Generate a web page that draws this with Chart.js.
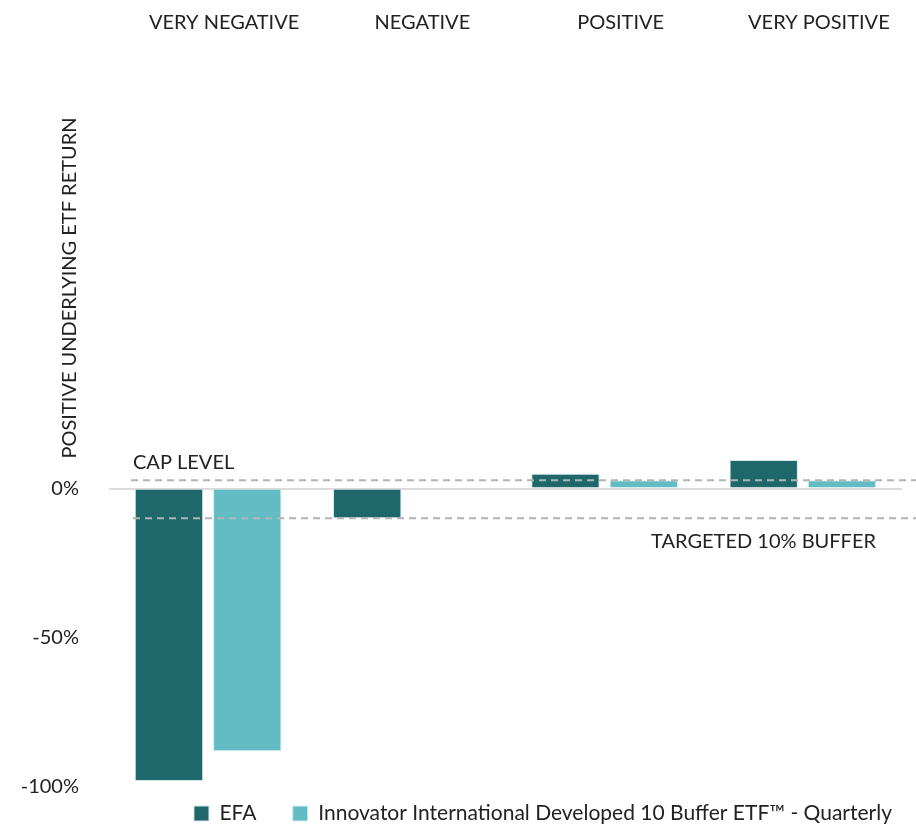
<!DOCTYPE html>
<html>
<head>
<meta charset="utf-8">
<script src="https://cdn.jsdelivr.net/npm/chart.js@4.4.1/dist/chart.umd.min.js"></script>
<style>
  html, body { margin: 0; padding: 0; background: #fff; }
  #wrap { width: 916px; height: 829px; overflow: hidden; }
  #bufferChart { display: block; }
</style>
</head>
<body>
<div id="wrap"><canvas id="bufferChart" width="916" height="835"></canvas></div>
<script>
// data
var categories = ['VERY NEGATIVE', 'NEGATIVE', 'POSITIVE', 'VERY POSITIVE'];
var efaValues = [-98.3, -10, 5, 9.6];
var innovatorValues = [-88.3, 0, 2.8, 2.8];
var yTickLabels = [-100, -50, 0];
var capLevel = 2.8;
var bufferLevel = -10;

var FONT = 'Lato, "DejaVu Sans", sans-serif';
var TEXT = '#222222';

// dashed reference lines, their labels and the rotated title
var referenceLines = {
    id: 'referenceLines',
    afterDatasetsDraw: function(chart) {
        var ctx = chart.ctx;
        var y = chart.scales.y;
        var left = chart.chartArea.left;
        var capY = y.getPixelForValue(capLevel);
        var bufY = y.getPixelForValue(bufferLevel);

        ctx.save();
        ctx.strokeStyle = '#b3b3b3';
        ctx.lineWidth = 2;
        ctx.setLineDash([7, 5]);
        ctx.beginPath();
        ctx.moveTo(left + 22, capY);
        ctx.lineTo(chart.width, capY);
        ctx.moveTo(left + 24, bufY);
        ctx.lineTo(chart.width, bufY);
        ctx.stroke();
        ctx.setLineDash([]);

        ctx.fillStyle = TEXT;
        ctx.font = '20px ' + FONT;
        ctx.textBaseline = 'middle';
        ctx.textAlign = 'left';
        ctx.fillText('CAP LEVEL', 133, capY - 18);
        ctx.textAlign = 'right';
        ctx.fillText('TARGETED 10% BUFFER', 876, bufY + 23);

        ctx.translate(70, 288);
        ctx.rotate(-Math.PI / 2);
        ctx.textAlign = 'center';
        ctx.fillText('POSITIVE UNDERLYING ETF RETURN', 0, 0);
        ctx.restore();
    }
};

function drawChart() {
    var ctx = document.getElementById('bufferChart').getContext('2d');

    var chart = new Chart(ctx, {
        type: 'bar',
        data: {
            labels: categories,
            datasets: [{
                label: 'EFA',
                data: efaValues,
                backgroundColor: '#1e686b',
                borderColor: '#d6e6e6',
                borderWidth: 1
            }, {
                label: 'Innovator International Developed 10 Buffer ETF\u2122 - Quarterly',
                data: innovatorValues,
                backgroundColor: '#63bcc3',
                borderColor: '#d6eef0',
                borderWidth: function(c) { return c.raw === 0 ? 0 : 1; }
            }]
        },
        options: {
            responsive: false,
            animation: false,
            categoryPercentage: 0.79,
            barPercentage: 0.873,
            layout: { padding: { left: 0, right: 14, top: 0, bottom: 0 } },
            scales: {
                x: {
                    position: 'top',
                    grid: { display: false, drawTicks: false },
                    border: { display: false },
                    ticks: {
                        color: TEXT,
                        font: { family: FONT, size: 20 },
                        padding: 7,
                        labelOffset: 16,
                        maxRotation: 0
                    },
                    afterFit: function(scale) { scale.height = 37; }
                },
                y: {
                    min: -102.3,
                    max: 150.1,
                    afterBuildTicks: function(scale) {
                        scale.ticks = yTickLabels.map(function(v) { return { value: v }; });
                    },
                    grid: {
                        drawTicks: false,
                        lineWidth: 2,
                        color: function(c) { return c.tick && c.tick.value === 0 ? '#dcdcdc' : 'rgba(0,0,0,0)'; }
                    },
                    border: { display: false },
                    ticks: {
                        color: TEXT,
                        font: { family: FONT, size: 20 },
                        padding: 30,
                        callback: function(v) { return v + '%'; }
                    },
                    afterFit: function(scale) { scale.width = 109; }
                }
            },
            plugins: {
                legend: {
                    position: 'bottom',
                    align: 'end',
                    labels: {
                        color: TEXT,
                        font: { family: FONT, size: 21 },
                        boxWidth: 15,
                        boxHeight: 15,
                        padding: 10,
                        generateLabels: function(chart) {
                            var items = Chart.defaults.plugins.legend.labels.generateLabels(chart);
                            // wider gap after the first entry
                            items[0].text += '\u2003\u2002';
                            return items;
                        }
                    }
                },
                tooltip: { enabled: false }
            }
        },
        plugins: [referenceLines]
    });
}

drawChart();
</script>
</body>
</html>
